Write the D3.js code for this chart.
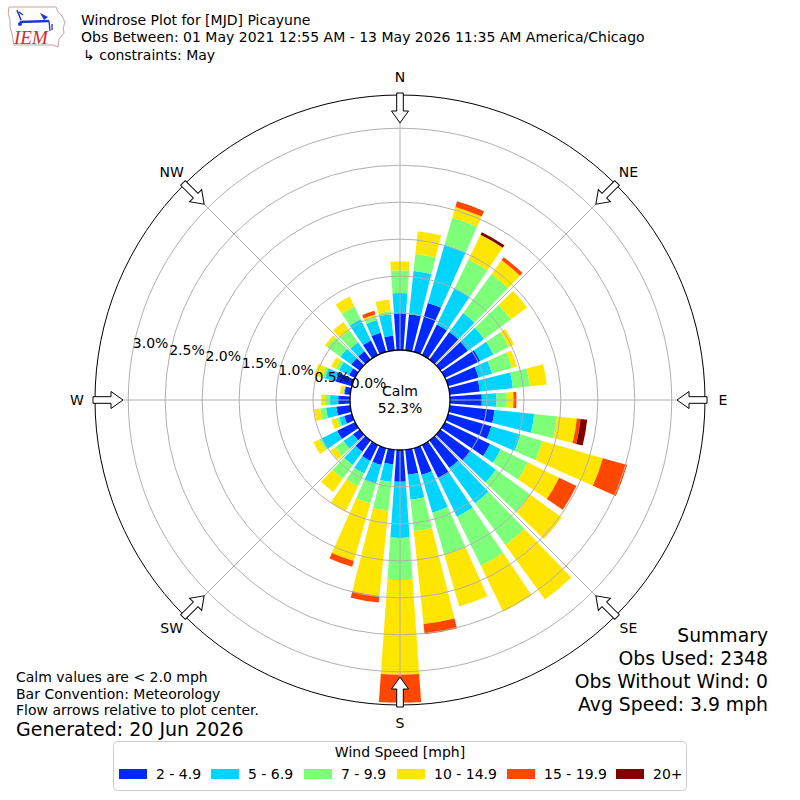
<!DOCTYPE html>
<html lang="en">
<head>
<meta charset="UTF-8" />
<title>Windrose MJD</title>
<style>
  * { margin:0; padding:0; }
  body { background:#fff; width:800px; height:800px; overflow:hidden; }
  svg { display:block; font-family:'DejaVu Sans',sans-serif; }
</style>
</head>
<body>
<script src="https://cdn.jsdelivr.net/npm/d3@7"></script>
<script>
  // direction of each bar (degrees, meteorological)
  const dirs = [0,10,20,30,40,50,60,70,80,90,100,110,120,130,140,150,160,170,
                180,190,200,210,220,230,240,250,260,270,280,290,300,310,320,330,340,350];
  // percent of obs per speed bin, one value per direction
  const spd2to5   = [0.50,0.49,0.69,0.46,0.46,0.46,0.53,0.43,0.41,0.43,0.61,0.61,0.68,0.51,0.46,0.51,0.38,0.34,
                     0.43,0.20,0.24,0.24,0.19,0.11,0.27,0.11,0.19,0.16,0.08,0.23,0.09,0.14,0.14,0.22,0.27,0.20];
  const spd5to7   = [0.27,0.59,0.82,0.55,0.32,0.27,0.20,0.19,0.45,0.20,0.54,0.41,0.16,0.42,0.59,0.57,0.53,0.34,
                     0.76,0.24,0.26,0.19,0.22,0.16,0.24,0.07,0.14,0.11,0.01,0.15,0.15,0.18,0.15,0.32,0.18,0.29];
  const spd7to10  = [0.31,0.23,0.38,0.43,0.65,0.45,0.23,0.28,0.23,0.14,0.31,0.31,0.41,0.57,0.70,0.74,0.59,0.43,
                     0.57,0.39,0.28,0.19,0.23,0.14,0.03,0.04,0.08,0.07,0.00,0.04,0.05,0.22,0.20,0.19,0.05,0.04];
  const spd10to15 = [0.12,0.31,0.15,0.37,0.23,0.27,0.08,0.07,0.23,0.09,0.27,0.85,0.47,0.53,0.91,0.69,0.73,1.26,
                     1.28,1.16,0.81,0.38,0.22,0.08,0.09,0.07,0.08,0.05,0.05,0.11,0.07,0.04,0.14,0.15,0.03,0.16];
  const spd15to20 = [0,0,0.08,0,0.05,0,0,0,0,0.04,0.05,0.34,0.26,0,0,0,0,0.14,
                     0.38,0.09,0.08,0,0,0,0,0,0,0,0,0,0,0,0,0,0.05,0];
  const spd20up   = [0,0,0,0.04,0,0,0,0,0,0,0.09,0,0,0,0,0,0,0,
                     0,0,0,0,0,0,0,0,0,0,0,0,0,0,0,0,0,0];
  const binLabels = ['2 - 4.9','5 - 6.9','7 - 9.9','10 - 14.9','15 - 19.9','20+'];
  const binColors = ['#0029ff','#00d4ff','#7dff7a','#ffe600','#ff4700','#800000'];
  const rTicks = [0.0,0.5,1.0,1.5,2.0,2.5,3.0];
  const compass = [['N',0],['NE',45],['E',90],['SE',135],['S',180],['SW',225],['W',270],['NW',315]];
  const calmPct = '52.3%';
  const titleLines = ['Windrose Plot for [MJD] Picayune',
    'Obs Between: 01 May 2021 12:55 AM - 13 May 2026 11:35 AM America/Chicago',
    '\u21b3 constraints: May'];
  const noteLines = ['Calm values are < 2.0 mph','Bar Convention: Meteorology','Flow arrows relative to plot center.'];
  const summaryLines = ['Summary','Obs Used: 2348','Obs Without Wind: 0','Avg Speed: 3.9 mph'];

  const W = 800, H = 800, cx = 400, cy = 400;
  const calmR = 50, outerR = 305;
  const svg = d3.select('body').append('svg').attr('width',W).attr('height',H);
  svg.append('rect').attr('width',W).attr('height',H).attr('fill','#fff');

  const r = d3.scaleLinear().domain([0,3.45]).range([calmR,outerR]);
  const rad = d => d*Math.PI/180;

  // stacked data
  const bins = [spd2to5,spd5to7,spd7to10,spd10to15,spd15to20,spd20up];
  const segs = [];
  dirs.forEach((d,i)=>{
    let cum = 0;
    bins.forEach((b,j)=>{
      const v = b[i];
      if(v>0) segs.push({dir:d, bin:j, lo:cum, hi:cum+v});
      cum += v;
    });
  });

  const g = svg.append('g').attr('transform',`translate(${cx},${cy})`);
  const arc = d3.arc();
  g.append('g').selectAll('path').data(segs).join('path')
    .attr('d',s=>arc({innerRadius:r(s.lo),outerRadius:r(s.hi),
      startAngle:rad(s.dir-4),endAngle:rad(s.dir+4)}))
    .attr('fill',s=>binColors[s.bin]);

  // grid on top of bars
  const grid = g.append('g').attr('fill','none').attr('stroke','#b0b0b0').attr('stroke-width',1);
  grid.selectAll('circle').data(rTicks.slice(1)).join('circle').attr('r',d=>r(d));
  grid.selectAll('line').data(compass).join('line')
    .attr('x1',d=>calmR*Math.sin(rad(d[1]))).attr('y1',d=>-calmR*Math.cos(rad(d[1])))
    .attr('x2',d=>outerR*Math.sin(rad(d[1]))).attr('y2',d=>-outerR*Math.cos(rad(d[1])));

  g.append('circle').attr('r',outerR).attr('fill','none').attr('stroke','#000').attr('stroke-width',1);
  g.append('circle').attr('r',calmR).attr('fill','#fff').attr('stroke','#000').attr('stroke-width',1.3);

  // flow arrows pointing to center
  const arrowPts = [[307,-3.3],[289,-3.3],[289,-8.5],[277,0],[289,8.5],[289,3.3],[307,3.3]];
  g.append('g').selectAll('path').data(compass).join('path')
    .attr('d','M'+arrowPts.map(p=>`${p[1]},${-p[0]}`).join('L')+'Z')
    .attr('transform',d=>`rotate(${d[1]})`)
    .attr('fill','#fff').attr('stroke','#000').attr('stroke-width',1);

  g.append('g').selectAll('text').data(compass).join('text')
    .attr('x',d=>323*Math.sin(rad(d[1]))).attr('y',d=>-323*Math.cos(rad(d[1])))
    .attr('text-anchor','middle').attr('dominant-baseline','central')
    .attr('font-size',14).text(d=>d[0]);

  // radial percent labels
  const la = rad(10.5);
  g.append('g').selectAll('text').data(rTicks).join('text')
    .attr('x',d=>-r(d)*Math.cos(la)).attr('y',d=>-r(d)*Math.sin(la)-2.5)
    .attr('font-size',14).text(d=>d.toFixed(1)+'%');

  g.append('text').attr('y',-9).attr('text-anchor','middle').attr('dominant-baseline','central')
    .attr('font-size',14).text('Calm');
  g.append('text').attr('y',8).attr('text-anchor','middle').attr('dominant-baseline','central')
    .attr('font-size',14).text(calmPct);

  // titles
  svg.append('g').selectAll('text').data(titleLines).join('text')
    .attr('x',(d,i)=>i===2?83:81).attr('y',(d,i)=>25+i*17.3)
    .attr('font-size',14).text(d=>d);

  // notes bottom left
  svg.append('g').selectAll('text').data(noteLines).join('text')
    .attr('x',16).attr('y',(d,i)=>682+i*16.7).attr('font-size',14).text(d=>d);
  svg.append('text').attr('x',16).attr('y',736).attr('font-size',19).text('Generated: 20 Jun 2026');

  // summary
  svg.append('g').selectAll('text').data(summaryLines).join('text')
    .attr('x',768).attr('y',(d,i)=>642+i*23).attr('text-anchor','end')
    .attr('font-size',18.8).text(d=>d);

  // legend
  const lg = svg.append('g');
  lg.append('rect').attr('x',113.5).attr('y',741.5).attr('width',573).attr('height',49).attr('rx',4)
    .attr('fill','#fff').attr('stroke','#cccccc');
  lg.append('text').attr('x',400).attr('y',757).attr('text-anchor','middle')
    .attr('font-size',14).text('Wind Speed [mph]');
  const swX = [119,211,304,397,507,616];
  const items = lg.selectAll('g.item').data(binLabels).join('g').attr('class','item')
    .attr('transform',(d,i)=>`translate(${swX[i]},774)`);
  items.append('rect').attr('y',-5).attr('width',28).attr('height',10).attr('fill',(d,i)=>binColors[i]);
  items.append('text').attr('x',37).attr('y',0).attr('dominant-baseline','central')
    .attr('font-size',14).text(d=>d);

  // IEM logo (simplified)
  const logo = svg.append('g');
  logo.append('path')
    .attr('d','M9,7 L56,7 Q57,12 62,16 L65,22 Q62,28 64,33 L59,39 L58,47 L53,45 L14,45 Q13,39 12,34 Q9,27 10,20 Q7,14 9,7 Z')
    .attr('fill','none').attr('stroke','#c8a0a0').attr('stroke-width',1);
  logo.append('line').attr('x1',20).attr('y1',22).attr('x2',49).attr('y2',21)
    .attr('stroke','#1c38c8').attr('stroke-width',2.5);
  logo.append('path').attr('d','M17,10 L21,20 M19,12 L23,15').attr('stroke','#1c38c8').attr('stroke-width',1.5).attr('fill','none');
  logo.append('path').attr('d','M40,13 L48,17 L44,20 Z').attr('fill','#1c38c8');
  logo.append('path').attr('d','M49,21 L50,31 M52,24 L52,30').attr('stroke','#1c38c8').attr('stroke-width',1.3).attr('fill','none');
  logo.append('circle').attr('cx',20).attr('cy',24).attr('r',2).attr('fill','#1c38c8');
  logo.append('text').attr('x',14).attr('y',44).attr('font-family','Liberation Serif, serif')
    .attr('font-style','italic').attr('font-size',19).attr('fill','#d42a2a').text('IEM');
</script>
</body>
</html>
